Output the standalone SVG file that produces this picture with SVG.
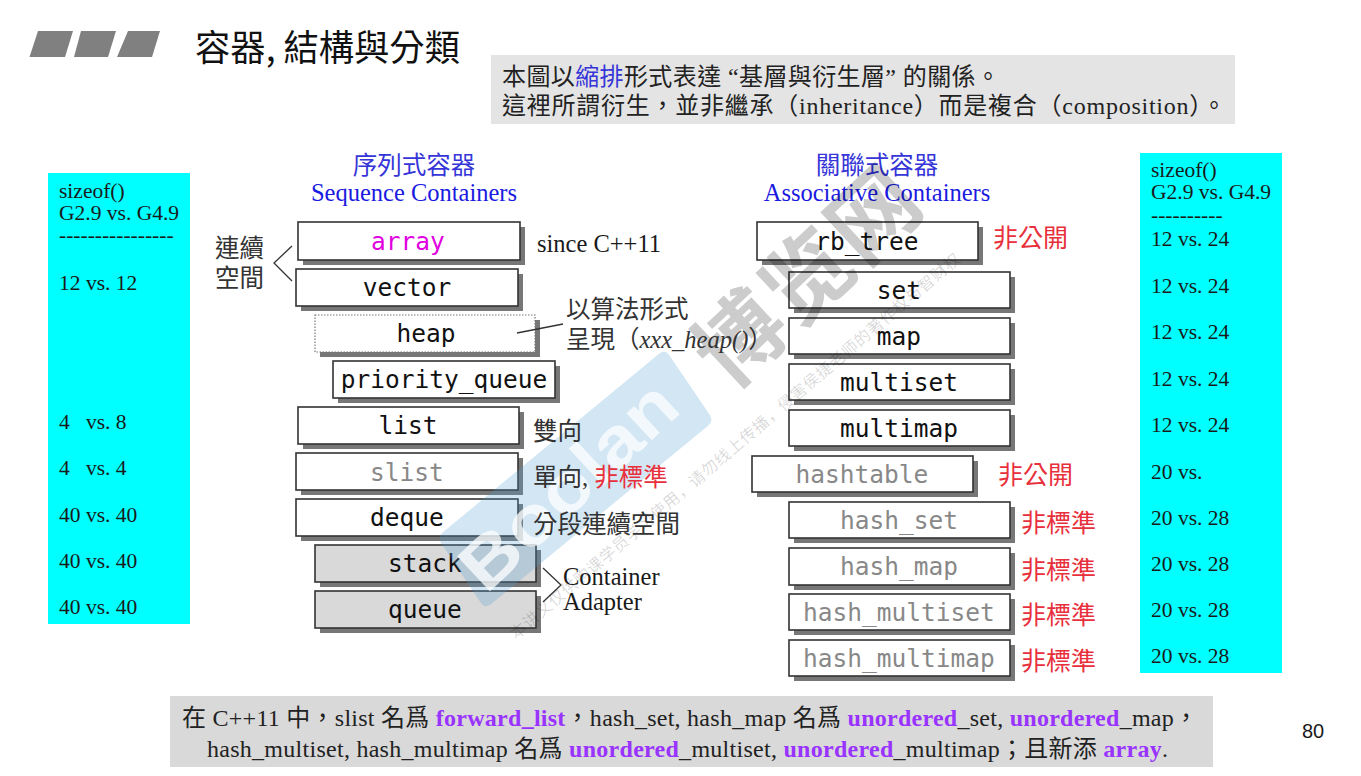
<svg xmlns="http://www.w3.org/2000/svg" width="1361" height="776" viewBox="0 0 1361 776">
<style>
text{font-family:"Liberation Serif","Noto Sans CJK TC",serif;fill:#1a1a1a}
.box{fill:#fff;stroke:#333;stroke-width:1.6}
.gbox{fill:#d9d9d9;stroke:#333;stroke-width:1.6}
.dbox{fill:#fff;stroke:#777;stroke-width:1.2;stroke-dasharray:1.5 1.5}
.sh{fill:#777}
.m{font-family:"DejaVu Sans Mono",monospace;font-size:24.5px;text-anchor:middle;fill:#111}
.c{font-size:21.5px}
.l{font-size:24.5px;fill:#333}
.s{font-size:24.5px}
.r{font-size:25px;fill:#e8303c}
.h{font-size:24.5px;fill:#3535d8;text-anchor:middle}
.e{font-size:24.5px;fill:#1a1ae0;text-anchor:middle}
.n{font-size:24px;fill:#222}
.cn{fill:none;stroke:#333;stroke-width:1.3}
.wm{font-family:"Noto Sans CJK SC",sans-serif;fill:#000}
</style>
<rect width="1361" height="776" fill="#fff"/>
<g id="title-mark" fill="#808080">
<polygon points="38,31 73,31 65,57 29.5,57"/>
<polygon points="81,31 116,31 108,57 74,57"/>
<polygon points="128,31 160,31 152,57 117,57"/>
</g>
<text id="title" x="195" y="61" font-size="36" style="font-family:'Noto Sans CJK TC',sans-serif;fill:#111" textLength="265" lengthAdjust="spacingAndGlyphs">容器, 結構與分類</text>
<g id="note-top">
<rect x="491" y="55" width="744" height="69" fill="#e4e4e4"/>
<text x="502" y="85" class="n" textLength="498">本圖以<tspan style="fill:#3535d8">縮排</tspan>形式表達 “基層與衍生層” 的關係。</text>
<text x="502" y="114" class="n" textLength="724">這裡所謂衍生，並非繼承（inheritance）而是複合（composition）。</text>
</g>
<g id="sizeof-left">
<rect x="48" y="173" width="142" height="451" fill="#00ffff"/>
<text x="59" y="198" class="c">sizeof()</text>
<text x="59" y="220" class="c">G2.9 vs. G4.9</text>
<text x="59" y="242" class="c">----------------</text>
<text x="59" y="290" class="c">12 vs. 12</text>
<text x="59" y="429" class="c" xml:space="preserve">4   vs. 8</text>
<text x="59" y="475" class="c" xml:space="preserve">4   vs. 4</text>
<text x="59" y="522" class="c">40 vs. 40</text>
<text x="59" y="568" class="c">40 vs. 40</text>
<text x="59" y="614" class="c">40 vs. 40</text>
</g>
<g id="sizeof-right">
<rect x="1140" y="153" width="142" height="520" fill="#00ffff"/>
<text x="1151" y="177" class="c">sizeof()</text>
<text x="1151" y="199" class="c">G2.9 vs. G4.9</text>
<text x="1151" y="222" class="c">----------</text>
<text x="1151" y="246" class="c">12 vs. 24</text>
<text x="1151" y="293" class="c">12 vs. 24</text>
<text x="1151" y="339" class="c">12 vs. 24</text>
<text x="1151" y="386" class="c">12 vs. 24</text>
<text x="1151" y="432" class="c">12 vs. 24</text>
<text x="1151" y="479" class="c">20 vs.</text>
<text x="1151" y="525" class="c">20 vs. 28</text>
<text x="1151" y="571" class="c">20 vs. 28</text>
<text x="1151" y="617" class="c">20 vs. 28</text>
<text x="1151" y="663" class="c">20 vs. 28</text>
</g>
<g id="headers">
<text x="414" y="174" class="h">序列式容器</text>
<text x="414" y="201" class="e">Sequence Containers</text>
<text x="877" y="174" class="h">關聯式容器</text>
<text x="877" y="201" class="e">Associative Containers</text>
</g>
<g id="node-array"><rect class="sh" x="303" y="227" width="222" height="38"/><rect class="box" x="298" y="222" width="222" height="38"/><text class="m" x="408" y="250" style="fill:#e000e0">array</text></g>
<g id="node-vector"><rect class="sh" x="301" y="274" width="222" height="37"/><rect class="box" x="296" y="269" width="222" height="37"/><text class="m" x="407" y="296">vector</text></g>
<g id="node-heap"><rect class="sh" x="320" y="320" width="220" height="37"/><rect class="dbox" x="315" y="315" width="220" height="37"/><text class="m" x="426" y="342">heap</text></g>
<g id="node-priority-queue"><rect class="sh" x="338" y="366" width="222" height="37"/><rect class="box" x="333" y="361" width="222" height="37"/><text class="m" x="444" y="388">priority_queue</text></g>
<g id="node-list"><rect class="sh" x="303" y="412" width="221" height="37"/><rect class="box" x="298" y="407" width="221" height="37"/><text class="m" x="408" y="434">list</text></g>
<g id="node-slist"><rect class="sh" x="301" y="458" width="222" height="37"/><rect class="box" x="296" y="453" width="222" height="37"/><text class="m" x="407" y="481" style="fill:#888">slist</text></g>
<g id="node-deque"><rect class="sh" x="301" y="504" width="222" height="37"/><rect class="box" x="296" y="499" width="222" height="37"/><text class="m" x="407" y="526">deque</text></g>
<g id="node-stack"><rect class="sh" x="320" y="550" width="221" height="37"/><rect class="gbox" x="315" y="545" width="221" height="37"/><text class="m" x="425" y="572">stack</text></g>
<g id="node-queue"><rect class="sh" x="320" y="596" width="221" height="37"/><rect class="gbox" x="315" y="591" width="221" height="37"/><text class="m" x="425" y="618">queue</text></g>
<g id="node-rb-tree"><rect class="sh" x="762" y="227" width="221" height="38"/><rect class="box" x="757" y="222" width="221" height="38"/><text class="m" x="867" y="250">rb_tree</text></g>
<g id="node-set"><rect class="sh" x="794" y="277" width="221" height="36"/><rect class="box" x="789" y="272" width="221" height="36"/><text class="m" x="899" y="299">set</text></g>
<g id="node-map"><rect class="sh" x="794" y="323" width="221" height="36"/><rect class="box" x="789" y="318" width="221" height="36"/><text class="m" x="899" y="345">map</text></g>
<g id="node-multiset"><rect class="sh" x="794" y="369" width="221" height="36"/><rect class="box" x="789" y="364" width="221" height="36"/><text class="m" x="899" y="391">multiset</text></g>
<g id="node-multimap"><rect class="sh" x="794" y="415" width="221" height="36"/><rect class="box" x="789" y="410" width="221" height="36"/><text class="m" x="899" y="437">multimap</text></g>
<g id="node-hashtable"><rect class="sh" x="757" y="461" width="221" height="36"/><rect class="box" x="752" y="456" width="221" height="36"/><text class="m" x="862" y="483" style="fill:#888">hashtable</text></g>
<g id="node-hash-set"><rect class="sh" x="794" y="507" width="221" height="36"/><rect class="box" x="789" y="502" width="221" height="36"/><text class="m" x="899" y="529" style="fill:#888">hash_set</text></g>
<g id="node-hash-map"><rect class="sh" x="794" y="553" width="221" height="37"/><rect class="box" x="789" y="548" width="221" height="37"/><text class="m" x="899" y="575" style="fill:#888">hash_map</text></g>
<g id="node-hash-multiset"><rect class="sh" x="794" y="599" width="221" height="36"/><rect class="box" x="789" y="594" width="221" height="36"/><text class="m" x="899" y="621" style="fill:#888">hash_multiset</text></g>
<g id="node-hash-multimap"><rect class="sh" x="794" y="645" width="221" height="36"/><rect class="box" x="789" y="640" width="221" height="36"/><text class="m" x="899" y="667" style="fill:#888">hash_multimap</text></g>
<g id="note-bottom">
<rect x="170" y="696" width="1043" height="71" fill="#d9d9d9"/>
<text x="182" y="726" class="n" textLength="1016">在 C++11 中，slist 名爲 <tspan style="fill:#9933ff;font-weight:bold">forward_list</tspan>，hash_set, hash_map 名爲 <tspan style="fill:#9933ff;font-weight:bold">unordered</tspan>_set, <tspan style="fill:#9933ff;font-weight:bold">unordered</tspan>_map，</text>
<text x="207" y="757" class="n" textLength="961">hash_multiset, hash_multimap 名爲 <tspan style="fill:#9933ff;font-weight:bold">unordered</tspan>_multiset, <tspan style="fill:#9933ff;font-weight:bold">unordered</tspan>_multimap；且新添 <tspan style="fill:#9933ff;font-weight:bold">array</tspan>.</text>
</g>
<text id="page" x="1302" y="738" font-size="20" style="font-family:'Liberation Sans',sans-serif">80</text>
<g id="watermark">
<path d="M669.5,355.6 L709.5,414.4 Q714,421 707.8,426 L491.2,604 Q485,609 480.6,602.4 L441.4,543.6 Q437,537 443.2,532 L658.8,354 Q665,349 669.5,355.6 Z" fill="#4a9ad4" fill-opacity=".25"/>
<text x="486" y="595" font-size="70" font-weight="bold" transform="rotate(-43 486 595)" style="font-family:'Liberation Sans',sans-serif;fill:#fff;opacity:.75" textLength="270" lengthAdjust="spacingAndGlyphs">Boolan</text>
<text x="730" y="392" font-size="88" font-weight="bold" transform="rotate(-43 730 392)" class="wm" style="fill-opacity:.2" textLength="270">博览网</text>
<text x="516" y="640" font-size="16" transform="rotate(-40.4 516 640)" class="wm" style="fill-opacity:.16" textLength="585">本讲义仅供购课学员学习使用，请勿线上传播，侵害侯捷老师的著作权与智财权</text>
</g>
<g id="connectors">
<polyline class="cn" points="292,246 274,263 292,281"/>
<polyline class="cn" points="543,568 561,585 543,602"/>
<line class="cn" x1="517" y1="333" x2="563" y2="324"/>
</g>
<g id="labels">
<text x="215" y="257" class="l">連續</text>
<text x="215" y="287" class="l">空間</text>
<text x="537" y="252" class="s">since C++11</text>
<text x="566" y="318" class="l">以算法形式</text>
<text x="566" y="348" class="l">呈現（<tspan font-style="italic" style="font-family:'Liberation Serif',serif">xxx_heap()</tspan>）</text>
<text x="533" y="440" class="l">雙向</text>
<text x="533" y="486" class="l">單向, <tspan style="fill:#e8303c">非標準</tspan></text>
<text x="533" y="533" class="l">分段連續空間</text>
<text x="563" y="585" class="s">Container</text>
<text x="563" y="610" class="s">Adapter</text>
<text x="993" y="247" class="r">非公開</text>
<text x="998" y="484" class="r">非公開</text>
<text x="1021" y="532" class="r">非標準</text>
<text x="1021" y="579" class="r">非標準</text>
<text x="1021" y="624" class="r">非標準</text>
<text x="1021" y="670" class="r">非標準</text>
</g>
</svg>
